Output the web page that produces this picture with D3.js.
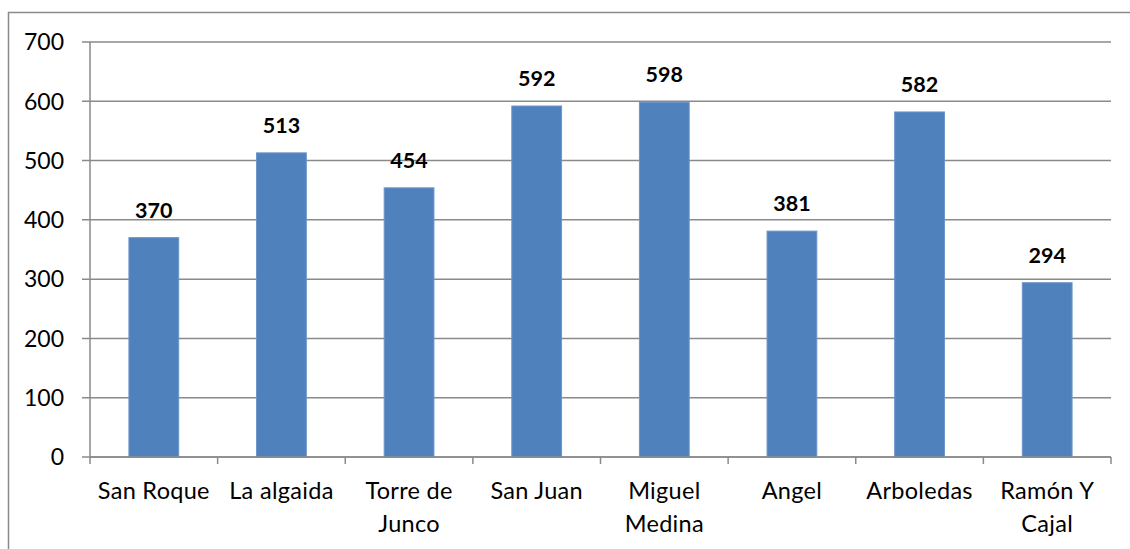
<!DOCTYPE html>
<html>
<head>
<meta charset="utf-8">
<script src="https://cdn.jsdelivr.net/npm/d3@7"></script>
<style>
  body { margin: 0; background: #fff; }
  svg { display: block; }
</style>
</head>
<body>
<div class="chart"></div>
<script>
var categories = ["San Roque", "La algaida", "Torre de Junco", "San Juan", "Miguel Medina", "Angel", "Arboledas", "Ramón Y Cajal"];
var labelLines = [["San Roque"], ["La algaida"], ["Torre de", "Junco"], ["San Juan"], ["Miguel", "Medina"], ["Angel"], ["Arboledas"], ["Ramón Y", "Cajal"]];
var values = [370, 513, 454, 592, 598, 381, 582, 294];
var yTicks = [0, 100, 200, 300, 400, 500, 600, 700];

function drawchart() {
    var width = 1130, height = 549;
    var mLeft = 90, mRight = 1111, mTop = 42, mBottom = 457;
    var font = "Lato, 'Open Sans', sans-serif";
    var grid = "#8a8a8a";

    var svg = d3.select(".chart").append("svg")
        .attr("width", width)
        .attr("height", height);

    // outer chart border (runs off the right and bottom edges)
    svg.append("path")
        .attr("d", "M8.5," + (height + 5) + "V12.5H" + (width + 5))
        .attr("fill", "none")
        .attr("stroke", grid)
        .attr("stroke-width", 1.5);

    var x = d3.scaleBand()
        .domain(categories)
        .range([mLeft, mRight])
        .paddingInner(0.61)
        .paddingOuter(0.305);

    var y = d3.scaleLinear()
        .domain([0, 700])
        .range([mBottom, mTop]);

    // gridlines + y tick marks
    svg.append("g")
        .selectAll("line")
        .data(yTicks)
        .enter().append("line")
        .attr("x1", mLeft - 8)
        .attr("x2", mRight)
        .attr("y1", function (d) { return y(d); })
        .attr("y2", function (d) { return y(d); })
        .attr("stroke", grid)
        .attr("stroke-width", 1.5);

    // y axis line
    svg.append("line")
        .attr("x1", mLeft).attr("x2", mLeft)
        .attr("y1", mTop).attr("y2", mBottom)
        .attr("stroke", grid)
        .attr("stroke-width", 1.5);

    // y labels
    svg.append("g")
        .selectAll("text")
        .data(yTicks)
        .enter().append("text")
        .attr("x", 64)
        .attr("y", function (d) { return y(d); })
        .attr("dy", "0.36em")
        .attr("text-anchor", "end")
        .attr("font-family", font)
        .attr("font-size", 23)
        .attr("fill", "#000")
        .text(function (d) { return d; });

    // bars
    svg.append("g")
        .selectAll("rect")
        .data(values)
        .enter().append("rect")
        .attr("x", function (d, i) { return x(categories[i]); })
        .attr("y", function (d) { return y(d); })
        .attr("width", x.bandwidth())
        .attr("height", function (d) { return y(0) - y(d); })
        .attr("fill", "#4f81bd")
        .attr("stroke", "#6d95c8")
        .attr("stroke-width", 1);

    // x axis line and ticks
    var step = x.step();
    svg.append("line")
        .attr("x1", mLeft).attr("x2", mRight)
        .attr("y1", mBottom).attr("y2", mBottom)
        .attr("stroke", grid)
        .attr("stroke-width", 1.5);
    svg.append("g")
        .selectAll("line")
        .data(d3.range(categories.length + 1))
        .enter().append("line")
        .attr("x1", function (i) { return mLeft + i * step; })
        .attr("x2", function (i) { return mLeft + i * step; })
        .attr("y1", mBottom)
        .attr("y2", mBottom + 7)
        .attr("stroke", grid)
        .attr("stroke-width", 1.5);

    // value labels
    svg.append("g")
        .selectAll("text")
        .data(values)
        .enter().append("text")
        .attr("x", function (d, i) { return x(categories[i]) + x.bandwidth() / 2; })
        .attr("y", function (d) { return y(d) - 20; })
        .attr("text-anchor", "middle")
        .attr("font-family", font)
        .attr("font-size", 21.5)
        .attr("font-weight", "bold")
        .attr("fill", "#000")
        .text(function (d) { return d; });

    // category labels
    var cat = svg.append("g")
        .selectAll("text")
        .data(labelLines)
        .enter().append("text")
        .attr("text-anchor", "middle")
        .attr("font-family", font)
        .attr("font-size", 23.5)
        .attr("letter-spacing", 0.3)
        .attr("fill", "#000");
    cat.selectAll("tspan")
        .data(function (d, i) { return d.map(function (s) { return { s: s, i: i }; }); })
        .enter().append("tspan")
        .attr("x", function (d) { return x(categories[d.i]) + x.bandwidth() / 2; })
        .attr("y", function (d, j) { return 499 + j * 33; })
        .text(function (d) { return d.s; });
}
drawchart();
</script>
</body>
</html>
